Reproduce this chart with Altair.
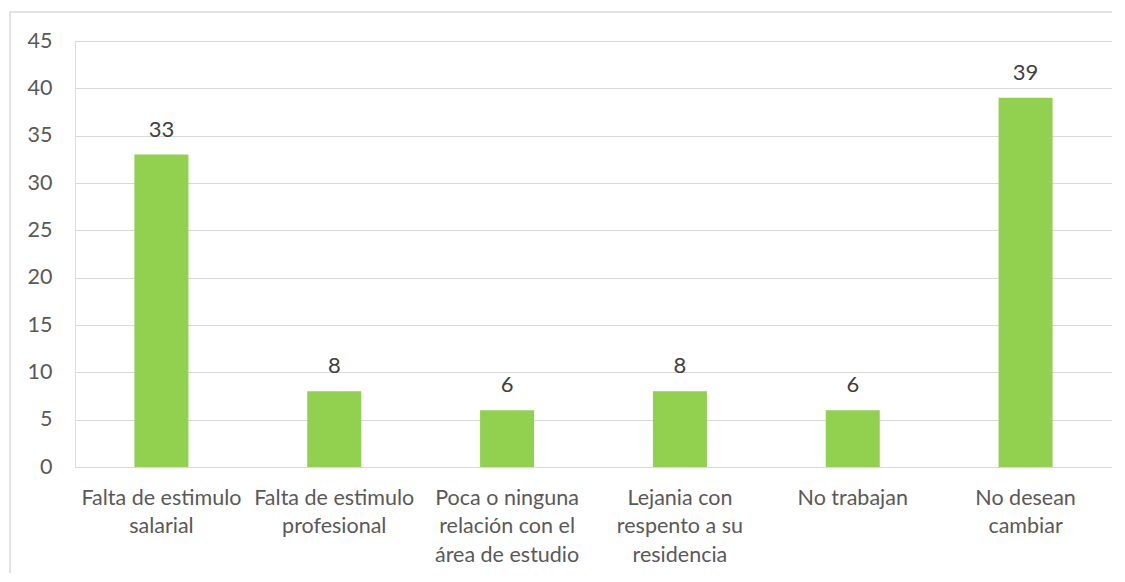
import altair as alt
import pandas as pd

categories = [
    "Falta de estimulo\nsalarial",
    "Falta de estimulo\nprofesional",
    "Poca o ninguna\nrelación con el\nárea de estudio",
    "Lejania con\nrespento a su\nresidencia",
    "No trabajan",
    "No desean\ncambiar",
]
values = [33, 8, 6, 8, 6, 39]
y_ticks = [0, 5, 10, 15, 20, 25, 30, 35, 40, 45]

df = pd.DataFrame({"cat": categories, "val": values})

W, H = 1037, 426
FONT = "Lato"

x = alt.X(
    "cat:N",
    sort=categories,
    title=None,
    scale=alt.Scale(paddingInner=0.6875, paddingOuter=0.34375),
    axis=alt.Axis(
        labelExpr="split(datum.label, '\\n')",
        labelAngle=0,
        labelFont=FONT,
        labelFontSize=21.5,
        labelColor="#595959",
        labelPadding=20,
        labelLineHeight=28.5,
        labelLimit=300,
        ticks=False,
        domainColor="#d9d9d9",
        domainWidth=1,
        grid=False,
    ),
)
y = alt.Y(
    "val:Q",
    title=None,
    scale=alt.Scale(domain=[0, 45], nice=False),
    axis=alt.Axis(
        values=y_ticks,
        labelFont=FONT,
        labelFontSize=21.5,
        labelColor="#595959",
        labelPadding=23,
        ticks=False,
        domain=False,
        gridColor="#d9d9d9",
        gridWidth=1,
    ),
)

border = alt.Chart(pd.DataFrame({"a": [0]})).mark_rect(
    filled=False, stroke="#d9d9d9", strokeWidth=1.5, clip=False
).encode(
    x=alt.value(-65), x2=alt.value(W + 40),
    y=alt.value(-29), y2=alt.value(H + 120),
)

bars = alt.Chart(df).mark_bar(color="#92D050").encode(x=x, y=y)
text = alt.Chart(df).mark_text(
    dy=-13, fontSize=22, font=FONT, color="#404040", baseline="bottom"
).encode(x=alt.X("cat:N", sort=categories), y="val:Q", text="val:Q")

chart = alt.layer(border, bars, text).properties(
    width=W, height=H,
    autosize=alt.AutoSizeParams(type="none"),
    padding={"left": 67, "top": 33, "right": 0, "bottom": 106},
).configure_view(stroke=None).configure(background="white")

chart.save("out.html", embed_options={"renderer": "svg", "actions": False})
